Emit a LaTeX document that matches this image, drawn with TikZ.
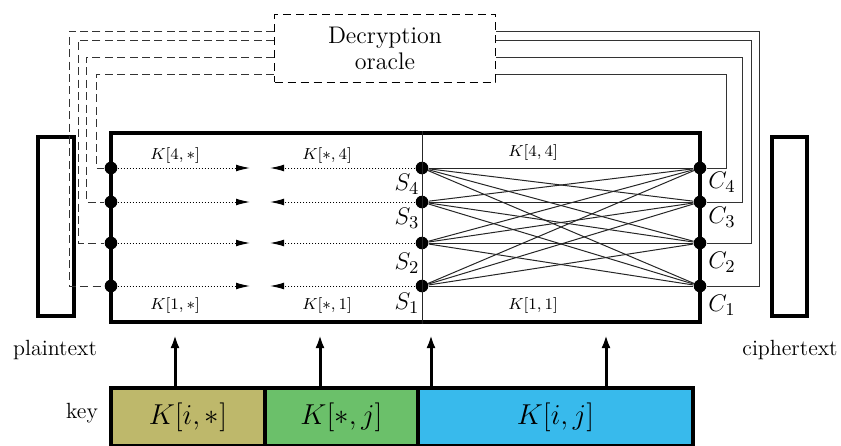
\documentclass[tikz,border=0pt]{standalone}
\usetikzlibrary{arrows.meta,calc}
\definecolor{kolive}{HTML}{BEB86B}
\definecolor{kgreen}{HTML}{6BC06A}
\definecolor{kblue}{HTML}{38BAEC}
\begin{document}
\begin{tikzpicture}[x=0.5pt,y=-0.5pt,
  dotn/.style={circle,fill=black,inner sep=0pt,minimum size=6.3pt},
  thickbox/.style={draw,line width=1.6pt,inner sep=0pt},
  thinl/.style={line width=0.5pt,black!85},
  oraclel/.style={line width=0.4pt,black!80,dash pattern=on 4pt off 2.2pt},
  rightl/.style={line width=0.4pt,black!80},
  dotarrow/.style={line width=0.5pt,densely dotted,-{Latex[length=7pt,width=3.4pt]}},
  keyarrow/.style={line width=1.5pt,-{Latex[length=6.5pt,width=4.5pt]}},
  klab/.style={font=\fontsize{7.8}{9}\selectfont,inner sep=0pt},
  slab/.style={font=\fontsize{12.5}{14}\selectfont,inner sep=0pt},
  tlab/.style={font=\fontsize{11}{13}\selectfont,inner sep=0pt},
  keyseg/.style={draw,line width=1.6pt,inner sep=0pt,minimum height=29pt,font=\fontsize{13.5}{15}\selectfont}
]
\useasboundingbox (0,0) rectangle (841,445);

% oracle
\node[draw,line width=0.5pt,dash pattern=on 4pt off 2.5pt,minimum width=110.5pt,minimum height=34pt,inner sep=0pt,align=center,font=\fontsize{12}{14}\selectfont] (oracle) at (385,48) {Decryption\\[-1pt]oracle};

% main box
\node[thickbox,minimum width=294.5pt,minimum height=94.5pt] (box) at (405.5,227.5) {};

% plaintext / ciphertext boxes
\node[thickbox,minimum width=18pt,minimum height=89.5pt] (pbox) at (56,226.5) {};
\node[thickbox,minimum width=17.5pt,minimum height=89.5pt] (cbox) at (789.5,226.5) {};

% dots
\foreach \i/\y in {1/286,2/243,3/202,4/168}{
  \node[dotn] (L\i) at (111,\y) {};
  \node[dotn] (S\i) at (422,\y) {};
  \node[dotn] (C\i) at (700,\y) {};
}

% vertical thin line
\draw[thinl] (box.north -| S1) -- (box.south -| S1);

% crossing lines
\foreach \i in {1,...,4}{
  \foreach \j in {1,...,4}{
    \draw[thinl] (S\i) -- (C\j);
  }
}

% dotted arrows
\coordinate (ml) at (250,0);
\coordinate (mr) at (270,0);
\foreach \i in {1,...,4}{
  \draw[dotarrow] (L\i) -- (L\i -| ml);
  \draw[dotarrow] (S\i) -- (S\i -| mr);
}

% oracle connections, left (dashed)
\coordinate (pa1) at (69,31);
\coordinate (pa2) at (78,40);
\coordinate (pa3) at (86,57);
\coordinate (pa4) at (96,74);
\foreach \i in {1,...,4}{
  \draw[oraclel] (oracle.west |- pa\i) -- (pa\i) |- (L\i);
}
% oracle connections, right (solid)
\coordinate (pc1) at (759,31);
\coordinate (pc2) at (751,40);
\coordinate (pc3) at (742,57);
\coordinate (pc4) at (726,74);
\foreach \i in {1,...,4}{
  \draw[rightl] (oracle.east |- pc\i) -- (pc\i) |- (C\i);
}

% small labels
\node[klab] (k4s) at (175,155) {$K[4,*]$};
\node[klab] (ks4) at (327,155) {$K[*,4]$};
\node[klab] (k44) at (533,152) {$K[4,4]$};
\node[klab] (k1s) at (175,305) {$K[1,*]$};
\node[klab] (ks1) at (327,305) {$K[*,1]$};
\node[klab] (k11) at (533,305) {$K[1,1]$};

% S and C labels
\node[slab] (s4l) at (407,184) {$S_4$};
\node[slab] (s3l) at (407,218) {$S_3$};
\node[slab] (s2l) at (407,263) {$S_2$};
\node[slab] (s1l) at (407,303) {$S_1$};
\node[slab] (c4l) at (722,182) {$C_4$};
\node[slab] (c3l) at (722,217) {$C_3$};
\node[slab] (c2l) at (722,262) {$C_2$};
\node[slab] (c1l) at (722,305) {$C_1$};

% texts
\node[tlab] (pt) at (55,350) {plaintext};
\node[tlab] (ct) at (790,350) {ciphertext};
\node[tlab] (kt) at (82,413) {key};

% key bar
\node[keyseg,fill=kolive,minimum width=77pt] (kA) at (188,417) {$K[i,*]$};
\node[keyseg,fill=kgreen,minimum width=76.5pt] (kB) at (341.5,417) {$K[*,j]$};
\node[keyseg,fill=kblue,minimum width=137.5pt] (kC) at (555.5,417) {$K[i,j]$};

% key arrows
\coordinate (t1) at (175,335);
\coordinate (t2) at (320,335);
\coordinate (t3) at (431,335);
\coordinate (t4) at (606,335);
\draw[keyarrow] (t1 |- kA.north) -- (t1);
\draw[keyarrow] (t2 |- kB.north) -- (t2);
\draw[keyarrow] (t3 |- kC.north) -- (t3);
\draw[keyarrow] (t4 |- kC.north) -- (t4);
\end{tikzpicture}
\end{document}
